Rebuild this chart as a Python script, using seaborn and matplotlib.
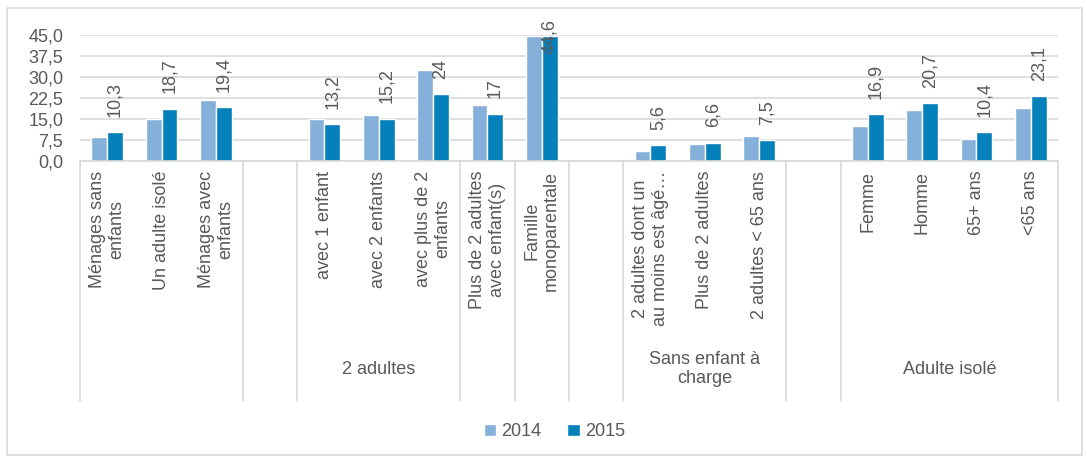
import numpy as np
import pandas as pd
import matplotlib
matplotlib.use("Agg")
import matplotlib.pyplot as plt
import matplotlib.transforms as mtransforms
from matplotlib.patches import Patch, Rectangle
import seaborn as sns

## Data (18 category slots, "" = empty slot between groups)
categories = [
    "Ménages sans\nenfants", "Un adulte isolé", "Ménages avec\nenfants", "",
    "avec 1 enfant", "avec 2 enfants", "avec plus de 2\nenfants",
    "Plus de 2 adultes\navec enfant(s)", "Famille\nmonoparentale", "",
    "2 adultes dont un\nau moins est âgé…", "Plus de 2 adultes", "2 adultes < 65 ans", "",
    "Femme", "Homme", "65+ ans", "<65 ans",
]
vals_2014 = [8.7, 15.0, 22.0, np.nan, 14.9, 16.4, 32.6, 20.2, 44.8, np.nan,
             3.6, 6.2, 9.1, np.nan, 12.4, 18.2, 7.8, 18.9]
vals_2015 = [10.3, 18.7, 19.4, np.nan, 13.2, 15.2, 24, 17, 44.6, np.nan,
             5.6, 6.6, 7.5, np.nan, 16.9, 20.7, 10.4, 23.1]
years = ["2014", "2015"]

group_labels = ["2 adultes", "Sans enfant à\ncharge", "Adulte isolé"]
group_spans = [(4, 6), (10, 12), (14, 17)]
separators = [-0.5, 2.5, 3.5, 6.5, 7.5, 8.5, 9.5, 12.5, 13.5, 17.5]

colors = ["#84B0DA", "#0480BB"]
gray = "#595959"
light = "#D9D9D9"

## Build long table
order = [c if c else " " * (i + 1) for i, c in enumerate(categories)]
df = pd.DataFrame({
    "cat": order * 2,
    "year": [years[0]] * len(order) + [years[1]] * len(order),
    "val": vals_2014 + vals_2015,
}).dropna()

sns.set_style("white")
plt.rcParams["font.family"] = ["Liberation Sans", "DejaVu Sans"]

fig = plt.figure(figsize=(10.87, 4.59), dpi=100)
ax = fig.add_axes([0.0736, 0.649, 0.8997, 0.2745])

sns.barplot(data=df, x="cat", y="val", hue="year", order=order, hue_order=years,
            palette=colors, saturation=1, width=0.58, gap=0, legend=False, ax=ax)

ax.set_xlim(-0.5, len(order) - 0.5)
ax.set_ylim(0, 45)
ax.set_yticks(np.arange(0, 45.1, 7.5))
ax.set_yticklabels([f"{v:.1f}".replace(".", ",") for v in np.arange(0, 45.1, 7.5)],
                   fontsize=13, color=gray)
ax.yaxis.grid(True, color=light, lw=1.2)
ax.set_axisbelow(True)
for s in ["top", "right", "left"]:
    ax.spines[s].set_visible(False)
ax.spines["bottom"].set_color(light)
ax.spines["bottom"].set_linewidth(1.2)
ax.tick_params(axis="y", length=0, pad=12)
ax.tick_params(axis="x", length=0, pad=7)
ax.set_xlabel("")
ax.set_ylabel("")

ax.set_xticks(range(len(order)))
ax.set_xticklabels(categories, rotation=90, fontsize=13, color=gray,
                   multialignment="center")

## data labels on 2015 bars
top_val = np.nanmax(vals_2015)
for bar, v in zip(ax.containers[1], [v for v in vals_2015 if not np.isnan(v)]):
    txt = f"{v:g}".replace(".", ",")
    x = bar.get_x() + bar.get_width() / 2
    if v == top_val:
        ax.text(x, v, txt, rotation=90, ha="center", va="center", fontsize=13, color=gray)
    else:
        ax.annotate(txt, (x, v), xytext=(0, 11), textcoords="offset points",
                    rotation=90, ha="center", va="bottom", fontsize=13, color=gray)

## category axis separators and group labels
trans = mtransforms.blended_transform_factory(ax.transData, ax.transAxes)
for xs in separators:
    ax.plot([xs, xs], [0, -1.90], transform=trans, color=light, lw=1.2, clip_on=False)
for lab, (a, b) in zip(group_labels, group_spans):
    ax.text((a + b) / 2, -1.65, lab, transform=trans, ha="center", va="center",
            fontsize=13, color=gray, multialignment="center")

## legend
handles = [Patch(facecolor=c) for c in colors]
leg = fig.legend(handles, years, loc="center", bbox_to_anchor=(0.51, 0.059), ncol=2,
                 frameon=False, fontsize=13, handlelength=0.7, handleheight=0.7,
                 handletextpad=0.3, columnspacing=1.4)
for t in leg.get_texts():
    t.set_color(gray)

## outer chart border
fig.patches.append(Rectangle((0.006, 0.008), 0.989, 0.975, transform=fig.transFigure,
                             fill=False, edgecolor=light, lw=1.2))

fig.savefig("out.png", dpi=100)
